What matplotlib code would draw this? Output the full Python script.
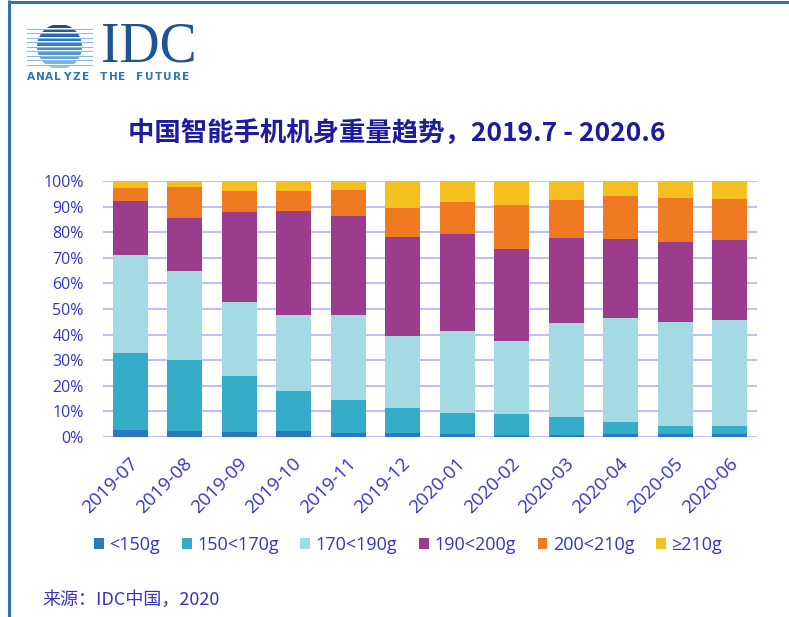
import matplotlib
matplotlib.use("Agg")
import matplotlib.pyplot as plt
import matplotlib.transforms as mtransforms
from matplotlib.patches import Rectangle, Circle
import numpy as np

plt.rcParams['font.family'] = ['Open Sans', 'Noto Sans CJK SC', 'DejaVu Sans']

# ---- data (percent share by weight band) ----
months = ["2019-07", "2019-08", "2019-09", "2019-10", "2019-11", "2019-12",
          "2020-01", "2020-02", "2020-03", "2020-04", "2020-05", "2020-06"]
series_names = ["<150g", "150<170g", "170<190g", "190<200g", "200<210g", "≥210g"]
lt150 =    [2.6, 2.2, 1.8, 2.2, 1.4, 1.4, 1.0, 0.7, 0.7, 1.0, 1.0, 1.0]
w150_170 = [30.1, 27.7, 22.1, 15.8, 12.9, 9.9, 8.5, 8.2, 7.0, 4.9, 3.3, 3.3]
w170_190 = [38.4, 34.9, 28.8, 29.5, 33.2, 28.1, 32.1, 28.6, 36.9, 40.5, 40.7, 41.3]
w190_200 = [21.1, 20.7, 35.0, 40.6, 38.8, 38.7, 37.7, 35.9, 33.2, 31.0, 31.0, 31.5]
w200_210 = [5.2, 12.3, 8.5, 8.1, 10.3, 11.2, 12.5, 17.2, 14.8, 16.7, 17.4, 15.9]
ge210 =    [2.6, 2.2, 3.8, 3.8, 3.4, 10.7, 8.2, 9.4, 7.4, 5.9, 6.6, 7.0]
yticks = [0, 10, 20, 30, 40, 50, 60, 70, 80, 90, 100]

series = [lt150, w150_170, w170_190, w190_200, w200_210, ge210]
colors = ["#2b78bd", "#36adc8", "#a3dae4", "#9b3c8c", "#f07a22", "#f3c020"]

TXT = "#3535c2"
W, H = 789, 617
fig = plt.figure(figsize=(W / 100, H / 100), dpi=100)
fig.patch.set_facecolor("white")

# ---- background / decoration layer in pixel coordinates ----
bg = fig.add_axes([0, 0, 1, 1])
bg.set_xlim(0, W)
bg.set_ylim(H, 0)
bg.axis("off")
bg.plot([9.5, W], [1.5, 1.5], color="#2e75b6", lw=2.2, solid_capstyle="butt")
bg.plot([9.5, 9.5], [0, H], color="#2e75b6", lw=2.2, solid_capstyle="butt")

# IDC globe logo
cx, cy, r = 59.5, 46.5, 22.5
circ = Circle((cx, cy), r, transform=bg.transData, facecolor="none", edgecolor="none")
bg.add_patch(circ)
band_cols = ["#1d4f8f", "#1f5c9e", "#2468ad", "#2a74b8", "#3380c2", "#3f8dcb", "#4f9ad3", "#62a7da", "#79b5e0", "#93c4e6"]
nb = len(band_cols)
step = 2 * r / nb
for i, c in enumerate(band_cols):
    y0 = cy - r + i * step
    rect = Rectangle((cx - r - 1, y0 + 0.6), 2 * r + 2, step - 1.2, facecolor=c, edgecolor="none")
    bg.add_patch(rect)
    rect.set_clip_path(circ)
    if i > 0:
        bg.plot([27, 92], [y0, y0], color="#8fb9e3", lw=0.8)
bg.text(101, 62, "IDC", family="Liberation Serif", fontsize=40, color="#1d5394",
        ha="left", va="baseline")
tag = "ANALYZE THE FUTURE"
for k, ch in enumerate(tag):
    bg.text(27 + k * 9.1, 77.5, ch, fontsize=7.6, color="#2e75b6", ha="left", va="center",
            family="DejaVu Sans", fontweight="bold")

# title
fig.text(397 / W, 1 - 134 / H, "中国智能手机机身重量趋势，2019.7 - 2020.6",
         ha="center", va="center", fontsize=19, fontweight="bold", color="#1c1c9c",
         family=["Noto Sans CJK SC", "DejaVu Sans"])

# ---- main chart ----
ax = fig.add_axes([103 / W, 1 - 437 / H, 654 / W, 256 / H])
x = np.arange(len(months))
bottom = np.zeros(len(months))
for vals, col, name in zip(series, colors, series_names):
    ax.bar(x, vals, width=0.635, bottom=bottom, color=col, label=name, zorder=3)
    bottom += np.array(vals)

ax.set_xlim(-0.5, len(months) - 0.5)
ax.set_ylim(0, 100)
ax.set_yticks(yticks)
ax.set_yticklabels([f"{v}%" for v in yticks])
for v in yticks:
    ax.axhline(v, color="#c0c0f5", lw=1.5, zorder=1)
for s in ax.spines.values():
    s.set_visible(False)
ax.tick_params(axis="both", length=0, colors=TXT)
ax.tick_params(axis="y", pad=14, labelsize=11.5)
ax.set_xticks(x)
ax.set_xticklabels(months, rotation=45, ha="right", rotation_mode="anchor", va="center",
                   fontsize=13.5)
ax.tick_params(axis="x", pad=17)
offset = mtransforms.ScaledTranslation(0.05, 0, fig.dpi_scale_trans)
for lbl in ax.get_xticklabels():
    lbl.set_transform(lbl.get_transform() + offset)

handles = [Rectangle((0, 0), 1, 1, facecolor=c) for c in colors]
fig.legend(handles, series_names, loc="center left", bbox_to_anchor=(94 / W, 1 - 545 / H),
           ncol=6, frameon=False, fontsize=13, labelcolor=TXT,
           handlelength=0.55, handleheight=0.55, handletextpad=0.3, columnspacing=1.2,
           borderpad=0, borderaxespad=0)

fig.text(42 / W, 1 - 600 / H, "来源：IDC中国，2020", ha="left", va="center",
         fontsize=13, color=TXT, family=["Noto Sans CJK SC", "DejaVu Sans"])

fig.savefig("out.png", dpi=100, facecolor="white")
